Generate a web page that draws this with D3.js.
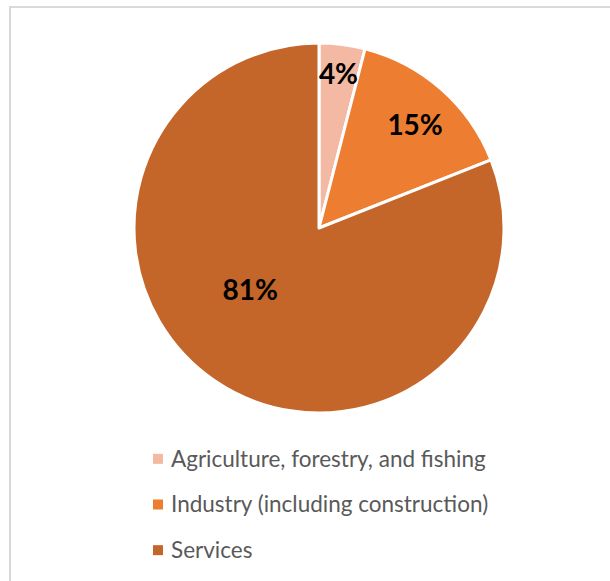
<!DOCTYPE html>
<html><head><meta charset="utf-8">
<script src="https://cdn.jsdelivr.net/npm/d3@7"></script>
<style>body{margin:0;background:#fff;} svg{display:block;}</style>
</head><body>
<svg id="c" width="610" height="581"></svg>
<script>
const categories = ["Agriculture, forestry, and fishing", "Industry (including construction)", "Services"];
const values = [4.0, 15.0, 81.0];
const labels = ["4%", "15%", "81%"];
const colors = ["#f4b9a2", "#ed7d31", "#c4662a"];

const svg = d3.select("#c");
// chart border (left and top visible)
svg.append("rect").attr("x", 10).attr("y", 7).attr("width", 640).attr("height", 620)
  .attr("fill", "none").attr("stroke", "#d9d9d9").attr("stroke-width", 2);

const cx = 319, cy = 228, R = 185;
const pie = d3.pie().sort(null).value(d => d)(values);
const arc = d3.arc().innerRadius(0).outerRadius(R);
const g = svg.append("g").attr("transform", `translate(${cx},${cy})`);
g.selectAll("path").data(pie).join("path")
  .attr("d", arc).attr("fill", (d, i) => colors[i])
  .attr("stroke", "#fff").attr("stroke-width", 3).attr("stroke-linejoin", "round");

// label placement: radius fraction and angle shift (layout)
const labelLayout = [{r: 0.84, da: 0.0}, {r: 0.76, da: 0.03}, {r: 0.5, da: 0.24}];
g.selectAll("text.lbl").data(pie).join("text").attr("class", "lbl")
  .attr("transform", (d, i) => {
    const a = (d.startAngle + d.endAngle) / 2 + labelLayout[i].da;
    const rr = R * labelLayout[i].r;
    return `translate(${rr * Math.sin(a)},${-rr * Math.cos(a)})`;
  })
  .attr("text-anchor", "middle").attr("dy", "0.36em")
  .attr("font-family", "Lato, 'Open Sans', sans-serif").attr("font-weight", "bold")
  .attr("font-size", 28).attr("fill", "#000")
  .text((d, i) => labels[i]);

const y = d3.scaleBand().domain(categories).range([436, 573]);
const lg = svg.append("g");
const row = lg.selectAll("g").data(categories).join("g")
  .attr("transform", d => `translate(0,${y(d) + y.bandwidth() / 2})`);
row.append("rect").attr("x", 153).attr("y", -5).attr("width", 10).attr("height", 10)
  .attr("fill", (d, i) => colors[i]);
row.append("text").attr("x", 171).attr("dy", "0.35em")
  .attr("font-family", "Lato, 'Open Sans', sans-serif").attr("font-size", 22.5)
  .attr("fill", "#595959").text(d => d);
</script>
</body></html>
